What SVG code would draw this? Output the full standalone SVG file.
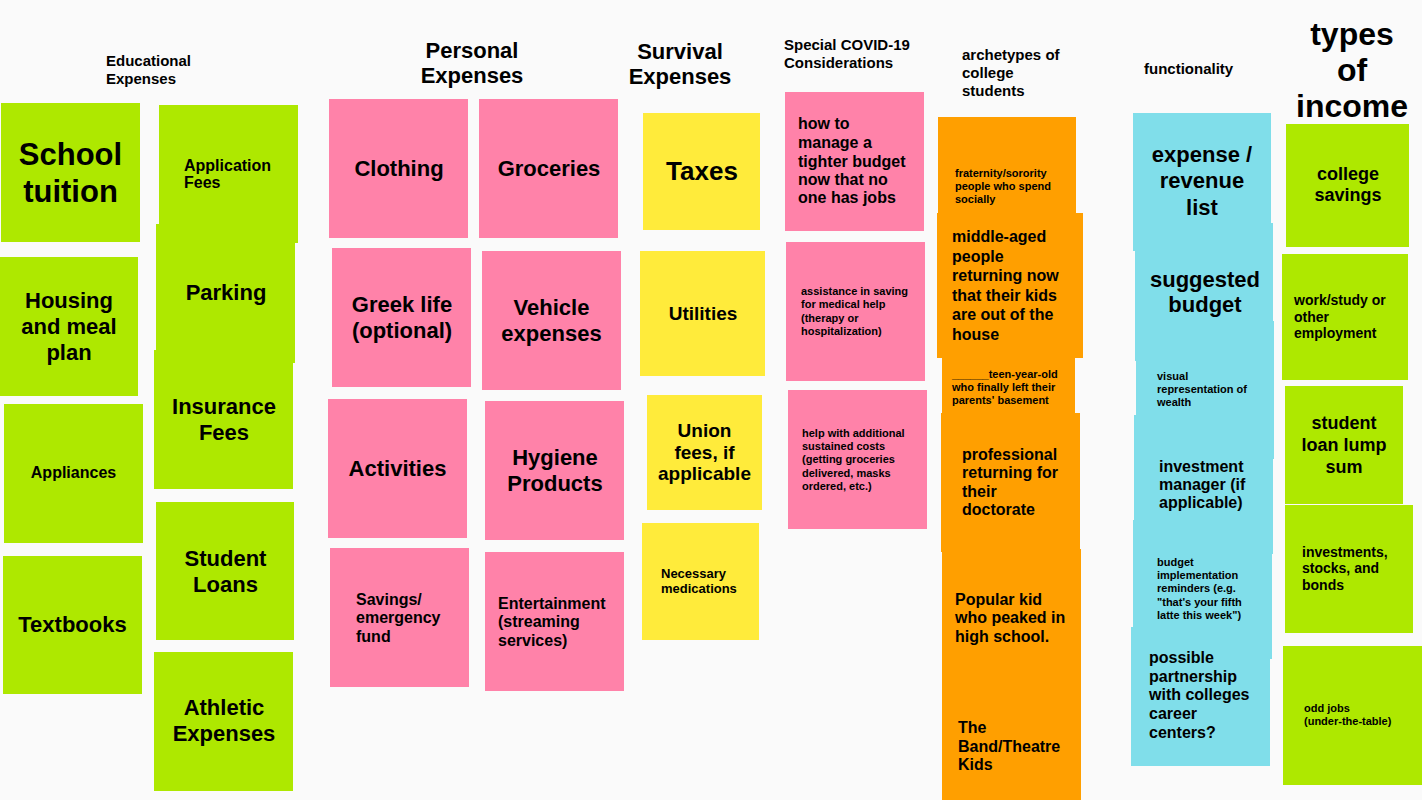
<svg xmlns="http://www.w3.org/2000/svg" width="1422" height="800" viewBox="0 0 1422 800">
<style>
text{font-family:"Liberation Sans",Arial,sans-serif;font-weight:700;fill:#000}
.g{fill:#AEE800}.p{fill:#FF82A9}.y{fill:#FFEB3B}.o{fill:#FF9F00}.c{fill:#80DEEA}
.m{text-anchor:middle}
.h15{font-size:15px}.h22{font-size:22px}.h32{font-size:32px}
.t31{font-size:31px}.t22{font-size:22px}.t20{font-size:19px}.t26{font-size:26px}.t18{font-size:18px}.t16{font-size:16px}.t14{font-size:14px}.t13{font-size:13px}.t11{font-size:11px}
</style>
<rect x="0" y="0" width="1422" height="800" fill="#FAFAFA"/>

<g id="headers">
<text class="h15" x="106" y="66">Educational</text>
<text class="h15" x="106" y="84">Expenses</text>
<text class="h22 m" x="472" y="58">Personal</text>
<text class="h22 m" x="472" y="83">Expenses</text>
<text class="h22 m" x="680" y="59">Survival</text>
<text class="h22 m" x="680" y="84">Expenses</text>
<text class="h15" x="784" y="50">Special COVID-19</text>
<text class="h15" x="784" y="68">Considerations</text>
<text class="h15" x="962" y="60">archetypes of</text>
<text class="h15" x="962" y="78">college</text>
<text class="h15" x="962" y="96">students</text>
<text class="h15" x="1144" y="74">functionality</text>
<text class="h32 m" x="1352" y="45">types</text>
<text class="h32 m" x="1352" y="81">of</text>
<text class="h32 m" x="1352" y="117">income</text>
</g>

<!-- Educational -->
<g id="school-tuition"><rect class="g" x="1" y="103" width="139" height="139"/><text class="t31 m" x="70.5" y="165">School</text><text class="t31 m" x="70.5" y="202">tuition</text></g>
<g id="application-fees"><rect class="g" x="159" y="105" width="139" height="138"/><text class="t16" x="184" y="171">Application</text><text class="t16" x="184" y="188">Fees</text></g>
<g id="parking"><rect class="g" x="156" y="224" width="139" height="139"/><text class="t22 m" x="226" y="300">Parking</text></g>
<g id="housing"><rect class="g" x="0" y="257" width="138" height="139"/><text class="t22 m" x="69" y="308">Housing</text><text class="t22 m" x="69" y="334">and meal</text><text class="t22 m" x="69" y="360">plan</text></g>
<g id="insurance-fees"><rect class="g" x="154" y="350" width="139" height="139"/><text class="t22 m" x="224" y="414">Insurance</text><text class="t22 m" x="224" y="440">Fees</text></g>
<g id="appliances"><rect class="g" x="4" y="404" width="139" height="139"/><text class="t16 m" x="73.5" y="478">Appliances</text></g>
<g id="textbooks"><rect class="g" x="3" y="556" width="139" height="138"/><text class="t22 m" x="72.5" y="632">Textbooks</text></g>
<g id="student-loans"><rect class="g" x="156" y="502" width="138" height="138"/><text class="t22 m" x="225.5" y="566">Student</text><text class="t22 m" x="225.5" y="592">Loans</text></g>
<g id="athletic-expenses"><rect class="g" x="154" y="652" width="139" height="139"/><text class="t22 m" x="224" y="715">Athletic</text><text class="t22 m" x="224" y="741">Expenses</text></g>

<!-- Personal -->
<g id="clothing"><rect class="p" x="329" y="99" width="139" height="139"/><text class="t22 m" x="399" y="176">Clothing</text></g>
<g id="groceries"><rect class="p" x="479" y="99" width="139" height="139"/><text class="t22 m" x="549" y="176">Groceries</text></g>
<g id="greek-life"><rect class="p" x="332" y="248" width="139" height="139"/><text class="t22 m" x="402" y="312">Greek life</text><text class="t22 m" x="402" y="338">(optional)</text></g>
<g id="vehicle-expenses"><rect class="p" x="482" y="251" width="139" height="139"/><text class="t22 m" x="551.5" y="315">Vehicle</text><text class="t22 m" x="551.5" y="341">expenses</text></g>
<g id="activities"><rect class="p" x="328" y="399" width="139" height="139"/><text class="t22 m" x="397.5" y="476">Activities</text></g>
<g id="hygiene-products"><rect class="p" x="485" y="401" width="139" height="139"/><text class="t22 m" x="555" y="465">Hygiene</text><text class="t22 m" x="555" y="491">Products</text></g>
<g id="savings"><rect class="p" x="330" y="548" width="139" height="139"/><text class="t16" x="356" y="605">Savings/</text><text class="t16" x="356" y="623">emergency</text><text class="t16" x="356" y="642">fund</text></g>
<g id="entertainment"><rect class="p" x="485" y="552" width="139" height="139"/><text class="t16" x="498" y="609">Entertainment</text><text class="t16" x="498" y="627">(streaming</text><text class="t16" x="498" y="646">services)</text></g>

<!-- Survival -->
<g id="taxes"><rect class="y" x="643" y="113" width="117" height="117"/><text class="t26 m" x="702" y="180">Taxes</text></g>
<g id="utilities"><rect class="y" x="640" y="251" width="125" height="125"/><text class="t20 m" x="703" y="320">Utilities</text></g>
<g id="union-fees"><rect class="y" x="647" y="395" width="115" height="115"/><text class="t20 m" x="704.5" y="437">Union</text><text class="t20 m" x="704.5" y="458.5">fees, if</text><text class="t20 m" x="704.5" y="480">applicable</text></g>
<g id="necessary-medications"><rect class="y" x="642" y="523" width="117" height="117"/><text class="t13" x="661" y="578">Necessary</text><text class="t13" x="661" y="593">medications</text></g>

<!-- COVID -->
<g id="tighter-budget"><rect class="p" x="785" y="92" width="139" height="139"/><text class="t16" x="798" y="129">how to</text><text class="t16" x="798" y="148">manage a</text><text class="t16" x="798" y="167">tighter budget</text><text class="t16" x="798" y="185">now that no</text><text class="t16" x="798" y="203">one has jobs</text></g>
<g id="medical-help"><rect class="p" x="786" y="242" width="139" height="139"/><text class="t11" x="801" y="295">assistance in saving</text><text class="t11" x="801" y="308">for medical help</text><text class="t11" x="801" y="322">(therapy or</text><text class="t11" x="801" y="335">hospitalization)</text></g>
<g id="additional-costs"><rect class="p" x="788" y="390" width="139" height="139"/><text class="t11" x="802" y="437">help with additional</text><text class="t11" x="802" y="450">sustained costs</text><text class="t11" x="802" y="463">(getting groceries</text><text class="t11" x="802" y="477">delivered, masks</text><text class="t11" x="802" y="490">ordered, etc.)</text></g>

<!-- Archetypes -->
<g id="fraternity"><rect class="o" x="938" y="117" width="138" height="138"/><text class="t11" x="955" y="177">fraternity/sorority</text><text class="t11" x="955" y="190">people who spend</text><text class="t11" x="955" y="203">socially</text></g>
<g id="teen-year-old"><rect class="o" x="942" y="320" width="133" height="135"/><text class="t11" x="952" y="378">______teen-year-old</text><text class="t11" x="952" y="391">who finally left their</text><text class="t11" x="952" y="404">parents' basement</text></g>
<g id="middle-aged"><rect class="o" x="937" y="213" width="146" height="145"/><text class="t16" x="952" y="242">middle-aged</text><text class="t16" x="952" y="262">people</text><text class="t16" x="952" y="281">returning now</text><text class="t16" x="952" y="301">that their kids</text><text class="t16" x="952" y="320">are out of the</text><text class="t16" x="952" y="340">house</text></g>
<g id="professional"><rect class="o" x="941" y="413" width="139" height="139"/><text class="t16" x="962" y="460">professional</text><text class="t16" x="962" y="478">returning for</text><text class="t16" x="962" y="497">their</text><text class="t16" x="962" y="515">doctorate</text></g>
<g id="popular-kid"><rect class="o" x="942" y="549" width="139" height="139"/><text class="t16" x="955" y="605">Popular kid</text><text class="t16" x="955" y="623">who peaked in</text><text class="t16" x="955" y="642">high school.</text></g>
<g id="band-theatre"><rect class="o" x="942" y="665" width="139" height="139"/><text class="t16" x="958" y="733">The</text><text class="t16" x="958" y="752">Band/Theatre</text><text class="t16" x="958" y="770">Kids</text></g>

<!-- Functionality -->
<g id="expense-revenue"><rect class="c" x="1133" y="113" width="138" height="138"/><text class="t22 m" x="1202" y="162">expense /</text><text class="t22 m" x="1202" y="188">revenue</text><text class="t22 m" x="1202" y="215">list</text></g>
<g id="suggested-budget"><rect class="c" x="1135" y="223" width="138" height="138"/><text class="t22 m" x="1205" y="287">suggested</text><text class="t22 m" x="1205" y="312">budget</text></g>
<g id="visual-representation"><rect class="c" x="1136" y="321" width="138" height="138"/><text class="t11" x="1157" y="380">visual</text><text class="t11" x="1157" y="393">representation of</text><text class="t11" x="1157" y="406">wealth</text></g>
<g id="investment-manager"><rect class="c" x="1134" y="415" width="139" height="139"/><text class="t16" x="1159" y="472">investment</text><text class="t16" x="1159" y="490">manager (if</text><text class="t16" x="1159" y="508">applicable)</text></g>
<g id="budget-reminders"><rect class="c" x="1133" y="520" width="139" height="139"/><text class="t11" x="1157" y="566">budget</text><text class="t11" x="1157" y="579">implementation</text><text class="t11" x="1157" y="592">reminders (e.g.</text><text class="t11" x="1157" y="606">"that's your fifth</text><text class="t11" x="1157" y="619">latte this week")</text></g>
<g id="career-centers"><rect class="c" x="1131" y="627" width="139" height="139"/><text class="t16" x="1149" y="663">possible</text><text class="t16" x="1149" y="682">partnership</text><text class="t16" x="1149" y="700">with colleges</text><text class="t16" x="1149" y="719">career</text><text class="t16" x="1149" y="738">centers?</text></g>

<!-- Income -->
<g id="college-savings"><rect class="g" x="1286" y="124" width="123" height="123"/><text class="t18 m" x="1348" y="180">college</text><text class="t18 m" x="1348" y="201">savings</text></g>
<g id="work-study"><rect class="g" x="1282" y="254" width="126" height="126"/><text class="t14" x="1294" y="305">work/study or</text><text class="t14" x="1294" y="322">other</text><text class="t14" x="1294" y="338">employment</text></g>
<g id="student-loan-lump-sum"><rect class="g" x="1285" y="386" width="118" height="118"/><text class="t18 m" x="1344" y="429">student</text><text class="t18 m" x="1344" y="451">loan lump</text><text class="t18 m" x="1344" y="473">sum</text></g>
<g id="investments"><rect class="g" x="1285" y="505" width="128" height="128"/><text class="t14" x="1302" y="557">investments,</text><text class="t14" x="1302" y="573">stocks, and</text><text class="t14" x="1302" y="590">bonds</text></g>
<g id="odd-jobs"><rect class="g" x="1283" y="646" width="139" height="139"/><text class="t11" x="1304" y="712">odd jobs</text><text class="t11" x="1304" y="725">(under-the-table)</text></g>
</svg>
